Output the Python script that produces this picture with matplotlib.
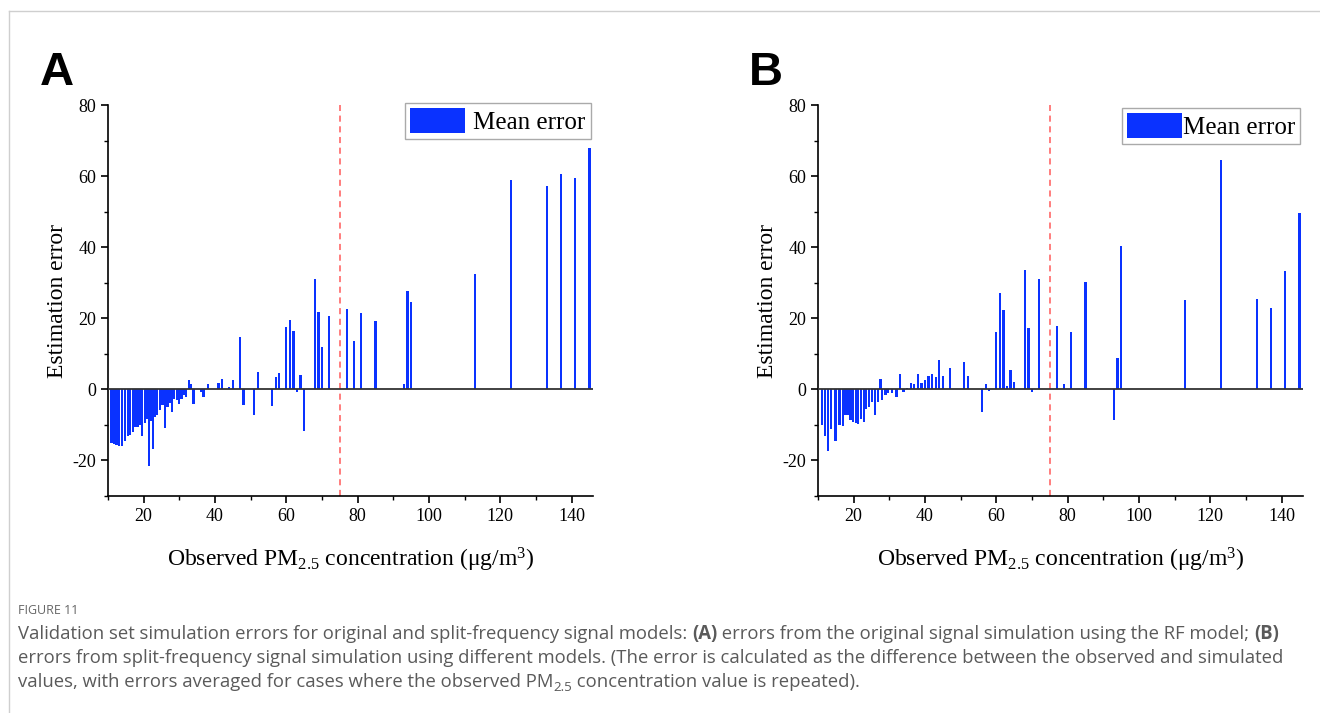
import matplotlib
matplotlib.use("Agg")
import matplotlib.pyplot as plt
from matplotlib.lines import Line2D

plt.rcParams['axes.unicode_minus'] = False
plt.rcParams['mathtext.fontset'] = 'custom'
plt.rcParams['mathtext.rm'] = 'Liberation Serif'
plt.rcParams['mathtext.it'] = 'Liberation Serif:italic'

# panel A: original signal, RF model
a_x = [11.0, 11.7, 12.4, 13.1, 13.9, 14.7, 15.5, 16.1, 16.9, 17.5,
       18.3, 19.0, 19.6, 20.3, 20.8, 21.4, 22.0, 22.6, 23.2, 23.8,
       24.6, 25.3, 25.9, 26.7, 27.3, 27.9, 28.6, 29.3, 30.0, 30.6,
       31.2, 31.9, 32.8, 33.3, 34.0, 36.0, 36.8, 38.0, 41.0, 42.0,
       44.0, 45.0, 47.0, 48.0, 51, 52, 56, 57, 58, 60,
       61, 62, 63, 64, 65, 68, 69, 70, 72, 77,
       79, 81, 85, 93, 94, 95, 113, 123, 133, 137,
       141, 145]
a_err = [-15.1, -15.3, -15.6, -15.8, -16.0, -14.4, -13.2, -12.8, -12.0, -10.6,
         -10.6, -10.0, -13.0, -9.5, -8.2, -21.7, -9.0, -16.9, -7.8, -7.3,
         -5.9, -4.5, -11.0, -5.0, -3.8, -6.4, -2.6, -2.9, -4.0, -2.8,
         -1.5, -2.2, 2.5, 1.6, -4.0, -0.8, -2.2, 1.6, 1.9, 2.8,
         0.8, 2.7, 14.6, -4.5, -7.1, 4.8, -4.7, 3.4, 4.5, 17.5,
         19.4, 16.5, -0.8, 4.1, -11.8, 31.1, 21.8, 12.0, 20.6, 22.5,
         13.7, 21.6, 19.2, 1.5, 27.6, 24.5, 32.5, 58.9, 57.3, 60.7,
         59.5, 68.0]

# panel B: split-frequency signal, different models
b_x = [11.2, 11.9, 12.8, 13.7, 14.9, 16.0, 16.9, 17.7, 18.4, 19.1,
       19.8, 20.6, 21.3, 22.1, 22.8, 23.5, 24.4, 25.2, 25.9, 26.8,
       27.5, 27.9, 28.9, 29.7, 30.7, 32.0, 33.0, 34.0, 35.0, 36.0,
       37.0, 38.0, 39.0, 39.9, 41.0, 42.0, 43.0, 44.0, 45.0, 47.0,
       51, 52, 56, 57, 58, 60, 61, 62, 63, 64,
       65, 68, 69, 70, 72, 77, 79, 81, 85, 93,
       94, 95, 113, 123, 133, 137, 141, 145]
b_err = [-10.1, -13.2, -17.4, -11.1, -14.4, -10.1, -10.3, -7.3, -7.3, -8.5,
         -9.2, -9.5, -9.7, -8.3, -9.2, -5.4, -5.0, -3.6, -7.3, -3.6,
         2.8, -3.1, -1.7, -1.0, -0.9, -2.2, 4.4, -0.8, 0.5, 1.9,
         1.4, 4.2, 1.9, 2.5, 3.9, 4.4, 3.5, 8.2, 3.7, 6.1,
         7.7, 3.9, -6.5, 1.5, -0.5, 16.1, 27.2, 22.3, 0.9, 5.4,
         2.0, 33.7, 17.2, -0.7, 31.0, 17.9, 1.4, 16.1, 30.2, -8.5,
         8.8, 40.2, 25.1, 64.5, 25.3, 23.0, 33.3, 49.5]

threshold = 75
BLUE = '#0a32ff'
W, H = 1320, 713

fig = plt.figure(figsize=(W / 100, H / 100), dpi=100)


def px_axes(left, top, right, bottom):
    return fig.add_axes([left / W, 1 - bottom / H, (right - left) / W, (bottom - top) / H])


def panel(ax, xs, errs, legend_anchor, textpad):
    ax.bar(xs, errs, width=0.62, color=BLUE, label='Mean error', zorder=2)
    ax.axhline(0, color='#333333', lw=1.3, zorder=3)
    ax.axvline(threshold, color='#ff5a5a', lw=1.1, ls=(0, (4, 3)), zorder=1)
    ax.set_xlim(10, 146)
    ax.set_ylim(-30, 80)
    ax.set_xticks([20, 40, 60, 80, 100, 120, 140])
    ax.set_xticks(range(10, 146, 10), minor=True)
    ax.set_yticks([-20, 0, 20, 40, 60, 80])
    ax.set_yticks(range(-30, 81, 10), minor=True)
    for s in ['top', 'right']:
        ax.spines[s].set_visible(False)
    for s in ['left', 'bottom']:
        ax.spines[s].set_linewidth(1.2)
    ax.tick_params(which='major', direction='out', length=5, width=1.2, labelsize=13)
    ax.tick_params(which='minor', direction='out', length=3, width=1.0)
    for lab in ax.get_xticklabels() + ax.get_yticklabels():
        lab.set_fontfamily('Liberation Serif')
    ax.set_xlabel(r'Observed PM$_{2.5}$ concentration ($\mathrm{\mu}$g/m$^3$)',
                  family='Liberation Serif', fontsize=17, labelpad=15)
    ax.set_ylabel('Estimation error', family='Liberation Serif', fontsize=17, labelpad=3)
    leg = ax.legend(loc='upper right', bbox_to_anchor=legend_anchor, borderaxespad=0,
                    prop={'family': 'Liberation Serif', 'size': 18}, fancybox=False,
                    framealpha=1, edgecolor='#aaaaaa', handlelength=2.2, handleheight=1.15,
                    handletextpad=textpad, borderpad=0.2)
    leg.get_frame().set_linewidth(1.0)


axA = px_axes(108, 105, 593, 496)
panel(axA, a_x, a_err, (0.995, 1.005), 0.35)
axB = px_axes(818, 105, 1303, 496)
panel(axB, b_x, b_err, (0.994, 0.992), 0.05)

fig.text(40 / W, 1 - 85 / H, 'A', family='Liberation Sans', weight='bold', fontsize=34)
fig.text(749 / W, 1 - 85 / H, 'B', family='Liberation Sans', weight='bold', fontsize=34)

# page frame lines
fig.add_artist(Line2D([9 / W, 1], [1 - 11 / H, 1 - 11 / H], color='#cfcfcf', lw=1))
fig.add_artist(Line2D([9 / W, 9 / W], [0, 1 - 11 / H], color='#cfcfcf', lw=1))

# caption
renderer = fig.canvas.get_renderer()
CAP = 'Open Sans'
GREY = '#5a5a5a'


def caption_line(x0, y0, pieces, size):
    x = x0
    for s, weight, dy, scale in pieces:
        t = fig.text(x / W, 1 - (y0 + dy) / H, s, family=CAP, weight=weight,
                     fontsize=size * scale, color=GREY, va='baseline')
        bb = t.get_window_extent(renderer)
        x += bb.width


fig.text(18 / W, 1 - 614 / H, 'FIGURE 11', family=CAP, fontsize=9, color='#666666',
         va='baseline')
cs = 13.35
caption_line(18, 639, [
    ('Validation set simulation errors for original and split-frequency signal models: ', 'normal', 0, 1),
    ('(A)', 'bold', 0, 1),
    (' errors from the original signal simulation using the RF model; ', 'normal', 0, 1),
    ('(B)', 'bold', 0, 1)], cs)
caption_line(18, 663, [
    ('errors from split-frequency signal simulation using different models. (The error is calculated '
     'as the difference between the observed and simulated', 'normal', 0, 1)], cs)
caption_line(18, 687, [
    ('values, with errors averaged for cases where the observed PM', 'normal', 0, 1),
    ('2.5', 'normal', 4, 0.72),
    (' concentration value is repeated).', 'normal', 0, 1)], cs)

fig.savefig('out.png', dpi=100)
